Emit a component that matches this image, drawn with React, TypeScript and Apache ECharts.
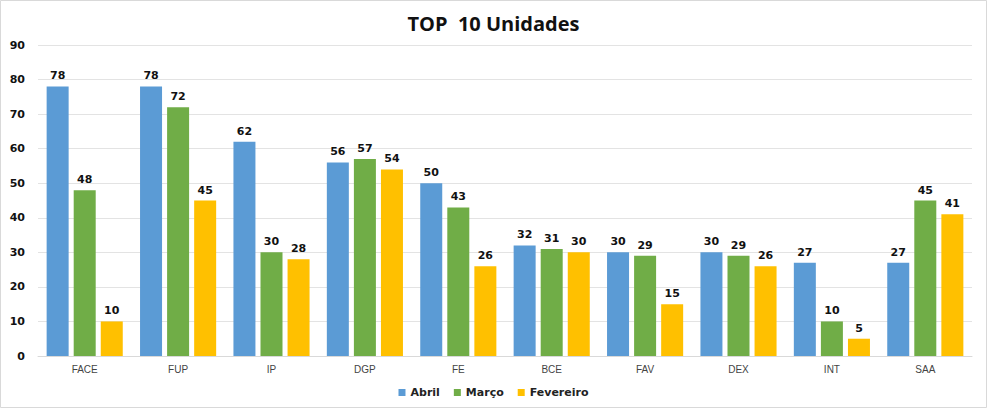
import React, { useEffect, useRef } from "react";
import * as echarts from "echarts";

const categories = ["FACE", "FUP", "IP", "DGP", "FE", "BCE", "FAV", "DEX", "INT", "SAA"];
const abril = [78, 78, 62, 56, 50, 32, 30, 30, 27, 27];
const marco = [48, 72, 30, 57, 43, 31, 29, 29, 10, 45];
const fevereiro = [10, 45, 28, 54, 26, 30, 15, 26, 5, 41];
const seriesNames = ["Abril", "Março", "Fevereiro"];
const colors = ["#5B9BD5", "#70AD47", "#FFC000"];

export default function App() {
  const ref = useRef<HTMLDivElement>(null);
  useEffect(() => {
    if (!ref.current) return;
    const chart = echarts.init(ref.current, undefined, { renderer: "svg" });
    const label = {
      show: true,
      position: "top",
      distance: 5,
      color: "#111",
      fontWeight: "bold",
      fontSize: 11,
      fontFamily: "DejaVu Sans",
    };
    const data = [abril, marco, fevereiro];
    chart.setOption({
      animation: false,
      backgroundColor: "#fff",
      title: {
        text: "TOP  10 Unidades",
        left: "center",
        top: 8,
        textStyle: { fontFamily: "Open Sans", fontWeight: "bold", fontSize: 20, color: "#111" },
      },
      graphic: [
        {
          type: "rect",
          shape: { x: 0.5, y: 0.5, width: 986, height: 407 },
          style: { fill: "none", stroke: "#d9d9d9", lineWidth: 1 },
          silent: true,
        },
      ],
      legend: {
        bottom: 5,
        left: "center",
        itemWidth: 7,
        itemHeight: 7,
        itemGap: 14,
        icon: "rect",
        textStyle: { fontFamily: "DejaVu Sans", fontWeight: "bold", fontSize: 11, color: "#222" },
        data: seriesNames,
      },
      grid: { left: 38, right: 15, top: 45, bottom: 52, containLabel: false },
      xAxis: {
        type: "category",
        data: categories,
        axisLine: { lineStyle: { color: "#d9d9d9" } },
        axisTick: { show: false },
        axisLabel: { color: "#444", fontSize: 10, fontFamily: "Liberation Sans", margin: 8 },
      },
      yAxis: {
        type: "value",
        min: 0,
        max: 90,
        interval: 10,
        axisLine: { show: false },
        axisTick: { show: false },
        splitLine: { lineStyle: { color: "#e3e3e3" } },
        axisLabel: {
          color: "#111",
          fontWeight: "bold",
          fontSize: 11,
          fontFamily: "DejaVu Sans",
          margin: 13,
          align: "right",
        },
      },
      series: seriesNames.map((name, i) => ({
        name,
        type: "bar",
        data: data[i],
        itemStyle: { color: colors[i] },
        barWidth: 22,
        barGap: "23%",
        label,
      })),
    });
    return () => chart.dispose();
  }, []);
  return (
    <div
      ref={ref}
      style={{ position: "fixed", left: 0, top: 0, width: 987, height: 408 }}
    />
  );
}
